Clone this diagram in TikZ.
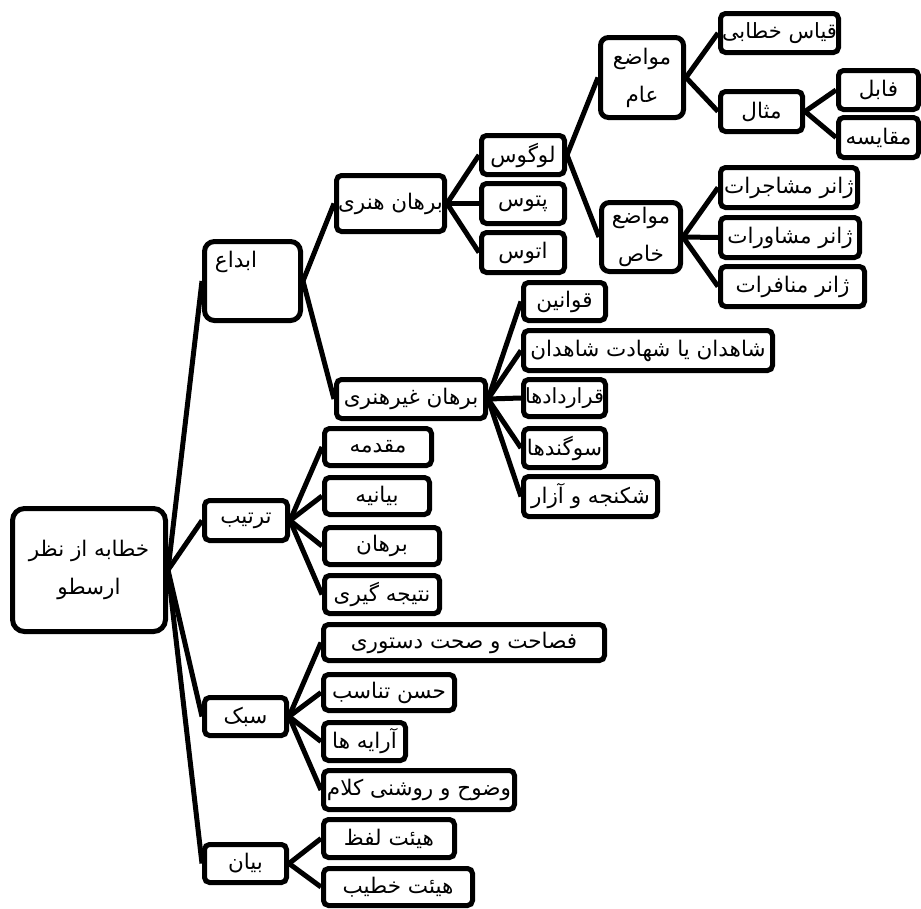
\documentclass[tikz,border=0pt]{standalone}
\usepackage{fontspec}
\usepackage{graphicx}
\newfontfamily\arabicfont[Script=Arabic]{DejaVu Sans}
\TeXXeTstate=1
\usetikzlibrary{backgrounds}
\newcommand\fa[1]{\beginR #1\endR}
\newsavebox\ftbox
\newcommand\ft[2]{\sbox\ftbox{#2}\ifdim\wd\ftbox>#1pt\resizebox{#1pt}{!}{\usebox\ftbox}\else\usebox\ftbox\fi}
\tikzset{
  fafont/.style={font=\arabicfont\fontsize{21.5}{38}\selectfont},
  box/.style={draw, line width=5pt, rounded corners=5pt, fill=white, inner sep=0pt,
    fafont, align=center},
  bigbox/.style={rounded corners=12pt},
  midbox/.style={rounded corners=8pt},
  link/.style={line width=5pt},
}
% single-line box, text shrunk to fit if needed
\newcommand\bx[7][]{\node[box,minimum width={(#4-#2-5)*1pt},minimum height={(#5-#3-5)*1pt},#1] (#6) at ({(#2+#4)/2},{-(#3+#5)/2}) {\ft{\fpeval{#4-#2-8}}{#7}};}
% multi-line box
\newcommand\bxm[7][]{\node[box,minimum width={(#4-#2-5)*1pt},minimum height={(#5-#3-5)*1pt},#1] (#6) at ({(#2+#4)/2},{-(#3+#5)/2}) {#7};}
\begin{document}
\begin{tikzpicture}[x=1pt,y=1pt]
\useasboundingbox (0,0) rectangle (921,-908);
% level 0
\bxm[bigbox]{10}{506}{168}{634}{root}{\beginR خطابه از نظر\endR\\\beginR ارسطو\endR}
% level 1
\bxm[bigbox,rounded corners=10pt]{202}{239}{303}{323}{abda}{}
\node[fafont] (abdaT) at (236,-262) {\beginR ابداع\endR};
\bx{202}{498}{290}{543}{tartib}{\beginR ترتیب\endR}
\bx{202}{695}{289}{738}{sabk}{\beginR سبک\endR}
\bx{202}{842}{289}{885}{bayan}{\beginR بیان\endR}
% under abda
\bx{334}{173}{447}{234}{bh}{\beginR برهان هنری\endR}
\bx{334}{377}{488}{421}{bgh}{\beginR برهان غیرهنری\endR}
% under tartib
\bx{322}{426}{434}{468}{moqaddame}{\beginR مقدمه\endR}
\bx{322}{475}{432}{517}{bayaniye}{\beginR بیانیه\endR}
\bx{322}{525}{442}{567}{borhan}{\beginR برهان\endR}
\bx{322}{573}{442}{616}{natije}{\beginR نتیجه گیری\endR}
% under sabk
\bx{321}{622}{607}{663}{fasahat}{\beginR فصاحت و صحت دستوری\endR}
\bx{321}{672}{457}{713}{hosn}{\beginR حسن تناسب\endR}
\bx{321}{720}{408}{763}{araye}{\beginR آرایه ها\endR}
\bx{321}{768}{517}{812}{vozuh}{\beginR وضوح و روشنی کلام\endR}
% under bayan
\bx{321}{817}{457}{860}{lafz}{\beginR هیئت لفظ\endR}
\bx{321}{866}{475}{908}{khatib}{\beginR هیئت خطیب\endR}
% under bh
\bx{479}{133}{567}{177}{logos}{\beginR لوگوس\endR}
\bx{479}{181}{567}{226}{pathos}{\beginR پتوس\endR}
\bx{479}{230}{567}{275}{ethos}{\beginR اتوس\endR}
% under logos
\bxm[midbox]{598}{35}{686}{120}{mam}{\beginR مواضع\endR\\\beginR عام\endR}
\bxm[midbox]{599}{200}{683}{274}{mkh}{\beginR مواضع\endR\\\beginR خاص\endR}
% under mam
\bx{718}{11}{841}{55}{qiyas}{\beginR قیاس خطابی\endR}
\bx{718}{89}{805}{134}{mesal}{\beginR مثال\endR}
\bx{836}{68}{921}{112}{fabl}{\beginR فابل\endR}
\bx{836}{115}{921}{160}{moqayese}{\beginR مقایسه\endR}
% under mkh
\bx{718}{165}{860}{210}{moshajerat}{\beginR ژانر مشاجرات\endR}
\bx{718}{215}{862}{260}{moshaverat}{\beginR ژانر مشاورات\endR}
\bx{718}{264}{867}{309}{monaferat}{\beginR ژانر منافرات\endR}
% under bgh
\bx{521}{280}{608}{323}{qavanin}{\beginR قوانین\endR}
\bx{521}{328}{775}{373}{shahedan}{\beginR شاهدان یا شهادت شاهدان\endR}
\bx{521}{377}{608}{419}{qarardad}{\beginR قراردادها\endR}
\bx{521}{426}{608}{470}{sogand}{\beginR سوگندها\endR}
\bx{521}{474}{660}{519}{shekanje}{\beginR شکنجه و آزار\endR}
% connectors
\begin{scope}[on background layer]
\foreach \c in {abda,tartib,sabk,bayan} \draw[link] (root.east) -- (\c.west);
\foreach \c in {bh,bgh} \draw[link] (abda.east) -- (\c.west);
\foreach \c in {moqaddame,bayaniye,borhan,natije} \draw[link] (tartib.east) -- (\c.west);
\foreach \c in {fasahat,hosn,araye,vozuh} \draw[link] (sabk.east) -- (\c.west);
\foreach \c in {lafz,khatib} \draw[link] (bayan.east) -- (\c.west);
\foreach \c in {logos,pathos,ethos} \draw[link] (bh.east) -- (\c.west);
\foreach \c in {mam,mkh} \draw[link] (logos.east) -- (\c.west);
\foreach \c in {qiyas,mesal} \draw[link] (mam.east) -- (\c.west);
\foreach \c in {fabl,moqayese} \draw[link] (mesal.east) -- (\c.west);
\foreach \c in {moshajerat,moshaverat,monaferat} \draw[link] (mkh.east) -- (\c.west);
\foreach \c in {qavanin,shahedan,qarardad,sogand,shekanje} \draw[link] (bgh.east) -- (\c.west);
\end{scope}
\end{tikzpicture}
\end{document}
